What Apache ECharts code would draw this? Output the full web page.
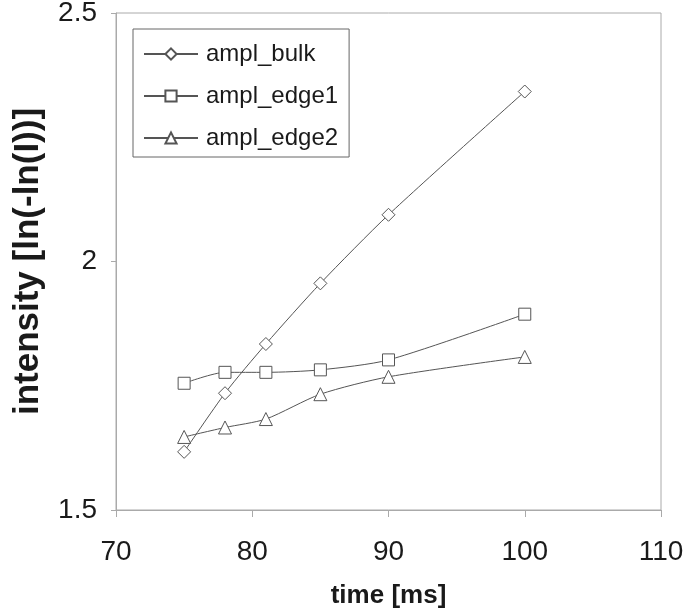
<!DOCTYPE html>
<html>
<head>
<meta charset="utf-8">
<script src="https://cdn.jsdelivr.net/npm/echarts@6/dist/echarts.min.js"></script>
<style>html,body{margin:0;padding:0;background:#fff}#c{width:683px;height:614px}</style>
</head>
<body>
<div id="c"></div>
<script>
var timeMs = [75, 78, 81, 85, 90, 100];
var amplBulk = [1.617, 1.735, 1.834, 1.956, 2.094, 2.342];
var amplEdge1 = [1.755, 1.777, 1.777, 1.782, 1.802, 1.894];
var amplEdge2 = [1.647, 1.666, 1.683, 1.733, 1.768, 1.808];
var seriesNames = ['ampl_bulk', 'ampl_edge1', 'ampl_edge2'];

function pairs(xs, ys) { return xs.map(function (x, i) { return [x, ys[i]]; }); }

var font = '"Liberation Sans", Arial, sans-serif';
var lineColor = '#555';
function mk(name, data, symbol, size) {
  return {
    name: name, type: 'line', data: pairs(timeMs, data),
    symbol: symbol, symbolSize: size, smooth: 0.25,
    lineStyle: { color: lineColor, width: 1 },
    itemStyle: { color: '#fff', borderColor: lineColor, borderWidth: 1 },
    emphasis: { disabled: true }
  };
}
var chart = echarts.init(document.getElementById('c'), null, { renderer: 'canvas' });
chart.setOption({
  animation: false,
  backgroundColor: '#fff',
  textStyle: { fontFamily: font },
  grid: { left: 116, right: 22, top: 13, bottom: 104, show: true, borderColor: '#aaa', borderWidth: 1,
          containLabel: false, outerBoundsMode: 'none' },
  legend: {
    orient: 'vertical', left: 133, top: 29,
    padding: [11, 11, 5, 10], itemGap: 14,
    itemWidth: 54, itemHeight: 14,
    borderColor: '#666', borderWidth: 1,
    textStyle: { fontSize: 24, color: '#1a1a1a', fontFamily: font, lineHeight: 28, padding: [0, 0, 0, 3] },
    data: seriesNames
  },
  xAxis: {
    type: 'value', min: 70, max: 110, interval: 10,
    name: 'time [ms]', nameLocation: 'middle', nameGap: 73,
    nameTextStyle: { fontSize: 26, fontWeight: 'bold', color: '#1a1a1a', fontFamily: font },
    axisLine: { show: true, lineStyle: { color: '#aaa', width: 1 } },
    axisTick: { show: true, inside: false, length: 7, lineStyle: { color: '#aaa' } },
    axisLabel: { fontSize: 28, color: '#1a1a1a', margin: 28, fontFamily: font },
    splitLine: { show: false }
  },
  yAxis: {
    type: 'value', min: 1.5, max: 2.5, interval: 0.5,
    name: 'intensity [ln(-ln(I))]', nameLocation: 'middle', nameGap: 70, nameRotate: 90,
    nameTextStyle: { fontSize: 35, fontWeight: 'bold', color: '#1a1a1a', fontFamily: font },
    axisLine: { show: true, lineStyle: { color: '#aaa', width: 1 } },
    axisTick: { show: true, inside: false, length: 5, lineStyle: { color: '#aaa' } },
    axisLabel: { fontSize: 28, color: '#1a1a1a', margin: 19, fontFamily: font },
    splitLine: { show: false }
  },
  series: [
    mk(seriesNames[0], amplBulk, 'diamond', 13),
    mk(seriesNames[1], amplEdge1, 'rect', 12),
    mk(seriesNames[2], amplEdge2, 'triangle', 13)
  ]
});
</script>
</body>
</html>
